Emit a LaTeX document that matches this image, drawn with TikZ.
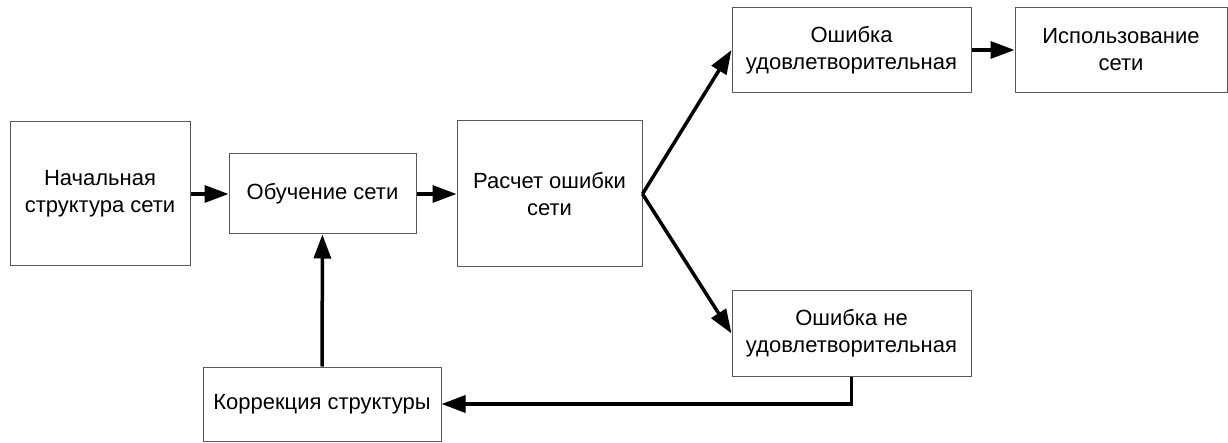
\documentclass[tikz,border=0pt]{standalone}
\usepackage{fontspec}
\setmainfont{Liberation Sans}
\usetikzlibrary{arrows.meta,positioning}

\begin{document}
\begin{tikzpicture}[x=1pt,y=-1pt,node font=\fontsize{22}{27}\selectfont,>={Triangle[length=24pt,width=17pt]}]
	\tikzstyle{block}=[draw=black!65,line width=1pt,align=center,inner sep=0pt]
	\tikzstyle{link}=[->,line width=3.5pt,black]
	\useasboundingbox (0,0) rectangle (1228,443);

	\node[block,minimum width=180pt,minimum height=144pt] (START) at (100,194)   {Начальная\\структура сети};
	\node[block,minimum width=187pt,minimum height=80pt]  (TRAIN) at (322.5,194) {Обучение сети};
	\node[block,minimum width=185pt,minimum height=146pt] (CALC)  at (549.5,194) {Расчет ошибки\\сети};
	\node[block,minimum width=239pt,minimum height=85pt]  (GOOD)  at (851.5,50)  {Ошибка\\удовлетворительная};
	\node[block,minimum width=212pt,minimum height=85pt]  (USE)   at (1121,50)   {Использование\\сети};
	\node[block,minimum width=239pt,minimum height=85pt]  (BAD)   at (851.5,333.5) {Ошибка не\\удовлетворительная};
	\node[block,minimum width=238pt,minimum height=74pt]  (FIX)   at (322,404)   {Коррекция структуры};

	\path[link]
	(START) edge (TRAIN)
	(TRAIN) edge (CALC)
	(CALC.east) edge (GOOD.west)
	(CALC.east) edge (BAD.west)
	(GOOD) edge (USE)
	(FIX) edge (TRAIN);
	\draw[link] (BAD.south) |- (FIX.east);
\end{tikzpicture}
\end{document}
